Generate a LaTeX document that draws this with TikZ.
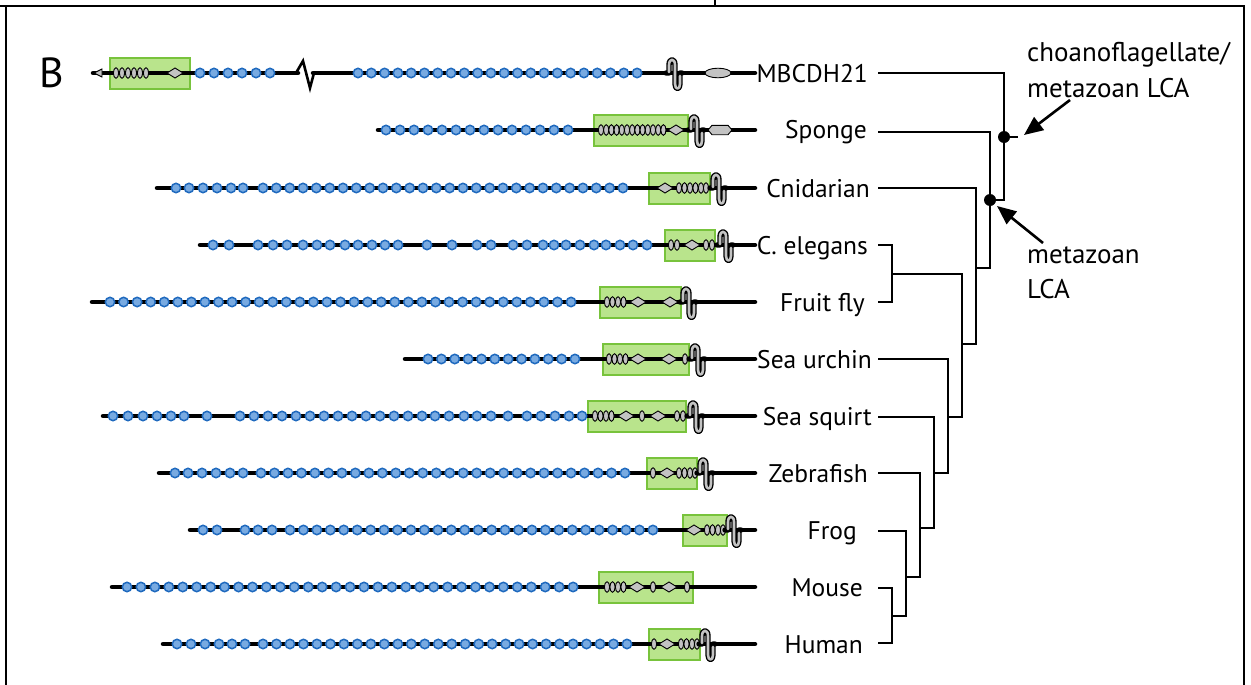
\documentclass[tikz,border=0pt]{standalone}
\usepackage{fontspec}
\setmainfont{PT Sans}
\usetikzlibrary{arrows.meta}
\definecolor{cadfill}{RGB}{120,170,225}
\definecolor{caddraw}{RGB}{30,105,190}
\definecolor{boxfill}{RGB}{185,228,140}
\definecolor{boxdraw}{RGB}{120,195,60}
\definecolor{domgray}{RGB}{195,195,195}
\tikzset{
 backbone/.style={line width=4.5pt, line cap=round},
 cad/.style={fill=cadfill, draw=caddraw, line width=1.5pt},
 dombox/.style={fill=boxfill, draw=boxdraw, line width=1.3pt},
 rep/.style={fill=domgray, draw=black, line width=0.9pt},
 tree/.style={line width=2.2pt},
 lab/.style={anchor=base east, inner sep=0pt, font=\fontsize{25.5}{30}\selectfont},
 ann/.style={anchor=base west, inner sep=0pt, font=\fontsize{27}{32}\selectfont},
 arr/.style={line width=2.6pt, -{Triangle[length=19pt,width=16pt]}},
 frame/.style={line width=2.5pt},
 tmpath/.style={line join=round, line cap=round},
 tm/.pic={
   \draw[tmpath, line width=5.4pt] (-6,0) -- (-3,0) -- (-3,-8) .. controls (-3,-15) and (3,-15) .. (3,-8) -- (3,11) .. controls (3,17) and (8,17) .. (8,11) -- (8,0) -- (10,0);
   \draw[tmpath, domgray, line width=2.6pt] (-3,-1) -- (-3,-8) .. controls (-3,-15) and (3,-15) .. (3,-8) -- (3,11) .. controls (3,17) and (8,17) .. (8,11) -- (8,3);
 }
}
\newcommand\cadrun[4]{\foreach \ci in {0,...,#4}{\filldraw[cad] ({#2+\ci*#3},#1) circle (4.7pt);}}
\newcommand\cadat[2]{\foreach \cx in {#2}{\filldraw[cad] (\cx,#1) circle (4.7pt);}}
\newcommand\repsat[2]{\foreach \rx in {#2}{\filldraw[rep] (\rx,#1) ellipse [x radius=2.6pt, y radius=5.3pt];}}
\newcommand\diasat[2]{\foreach \dx in {#2}{\filldraw[rep] ({\dx-8},#1) -- (\dx,{#1-5}) -- ({\dx+8},#1) -- (\dx,{#1+5}) -- cycle;}}
\newcommand\domainbox[3]{\filldraw[dombox] (#2,{#1-15}) rectangle (#3,{#1+16});}
\begin{document}
\begin{tikzpicture}[x=1pt,y=-1pt]
\useasboundingbox (0,0) rectangle (1251,685);
% frame
\draw[frame] (0,6) -- (1244,6) -- (1244,685);
\draw[frame] (6,6) -- (6,685);
\draw[frame] (715,0) -- (715,6);
\node[anchor=base west, inner sep=0pt, font=\fontsize{42}{46}\selectfont] (panelB) at (39,88) {B};

% ---- row 1: MBCDH21
\domainbox{73}{110}{190}
\draw[backbone] (93,73) -- (298,73);
\draw[line width=2.6pt, line join=miter] (296,73) -- (303,61) -- (310,88) -- (314,73);
\draw[backbone] (313,73) -- (755,73);
\filldraw[rep] (94,73) -- (102,69) -- (102,77) -- cycle;
\repsat{73}{116,122,128,134,140,146}
\diasat{73}{175}
\cadat{73}{200,214,228,242,256,270}
\cadrun{73}{358}{13.29}{21}
\pic at (672,73) {tm};
\filldraw[rep] (718,73) ellipse [x radius=13pt, y radius=4.8pt];

% ---- row 2: Sponge
\domainbox{130}{594}{688}
\draw[backbone] (378,130) -- (755,130);
\cadrun{130}{386}{14}{13}
\repsat{130}{601,606.2,611.4,616.6,621.8,627,632.2,637.4,642.6,647.8,653,658.2,663.4}
\diasat{130}{676}
\pic at (694,130) {tm};
\filldraw[rep] (708,130) -- (712,125.3) -- (728,125.3) -- (732,130) -- (728,134.7) -- (712,134.7) -- cycle;

% ---- row 3: Cnidarian
\domainbox{188}{649}{710}
\draw[backbone] (157,188) -- (755,188);
\cadat{188}{176,189,203,217,231,243}
\cadrun{188}{263}{13.33}{27}
\diasat{188}{665}
\repsat{188}{679,684.5,690,695.5,701,706}
\pic at (716,188) {tm};

% ---- row 4: C. elegans
\domainbox{245}{665}{715}
\draw[backbone] (200,245) -- (755,245);
\cadat{245}{213,229,258,273,287,303,317,330,345,358,372,385,398,427,452,477,491,513,527,543,554,566,580,594,606,620,633,647}
\repsat{245}{671,677,706,712}
\diasat{245}{692}
\pic at (723,245) {tm};

% ---- row 5: Fruit fly
\domainbox{302}{600}{681}
\draw[backbone] (92,302) -- (755,302);
\cadrun{302}{110}{13.56}{34}
\repsat{302}{607,612.5,618,623.5}
\diasat{302}{638,670}
\pic at (686,302) {tm};

% ---- row 6: Sea urchin
\domainbox{359}{603}{689}
\draw[backbone] (405,359) -- (755,359);
\cadrun{359}{428}{13.36}{11}
\repsat{359}{609,614.5,620,625.5,685}
\diasat{359}{638,669}
\pic at (695,359) {tm};

% ---- row 7: Sea squirt
\domainbox{416}{588}{686}
\draw[backbone] (103,416) -- (755,416);
\cadat{416}{113,128,143,157,171,184,207,240,254,268,282,296,310,324,338,352,366,380,394,408,422,435,449,464,477,491,508,527,541,555,569,582}
\repsat{416}{595,600.5,606,611.5,642,677,683}
\diasat{416}{626,658}
\pic at (693,416) {tm};

% ---- row 8: Zebrafish
\domainbox{473}{647}{697}
\draw[backbone] (159,473) -- (755,473);
\cadat{473}{175,188,202,216,230,243}
\cadrun{473}{261}{13.48}{27}
\repsat{473}{653,679,684.5,690,695}
\diasat{473}{667}
\pic at (703,473) {tm};

% ---- row 9: Frog
\domainbox{530}{683}{727}
\draw[backbone] (190,530) -- (755,530);
\cadat{530}{203,217,245,258,272}
\cadrun{530}{290}{13.44}{27}
\diasat{530}{694}
\repsat{530}{707,712.5,718,723}
\pic at (731,530) {tm};

% ---- row 10: Mouse
\domainbox{587}{599}{693}
\draw[backbone] (112,587) -- (755,587);
\cadrun{587}{127}{13.94}{32}
\repsat{587}{607,612.5,618,623.5,653,687}
\diasat{587}{637,669}

% ---- row 11: Human
\domainbox{644}{649}{700}
\draw[backbone] (163,644) -- (755,644);
\cadat{644}{177,191,205,219,232,245}
\cadrun{644}{263}{13.48}{27}
\repsat{644}{654,681,686.5,692,697}
\diasat{644}{667}
\pic at (705,644) {tm};

% ---- labels
\node[lab] (lMB) at (868,82) {MBCDH21};
\node[lab] (lSp) at (867,139) {Sponge};
\node[lab] (lCn) at (870,197) {Cnidarian};
\node[lab] (lCe) at (868,254) {C. elegans};
\node[lab] (lFf) at (865,311) {Fruit fly};
\node[lab] (lSu) at (872,368) {Sea urchin};
\node[lab] (lSs) at (872,425) {Sea squirt};
\node[lab] (lZf) at (868,482) {Zebrafish};
\node[lab] (lFr) at (857,539) {Frog};
\node[lab] (lMo) at (863,596) {Mouse};
\node[lab] (lHu) at (863,653) {Human};

% ---- tree leaves
\coordinate (tMB) at (878,73);
\coordinate (tSp) at (878,132);
\coordinate (tCn) at (878,188);
\coordinate (tCe) at (878,245);
\coordinate (tFf) at (878,302);
\coordinate (tSu) at (878,359);
\coordinate (tSs) at (878,417);
\coordinate (tZf) at (878,473);
\coordinate (tFr) at (878,531);
\coordinate (tMo) at (878,588);
\coordinate (tHu) at (878,643);
% internal nodes
\coordinate (nChoano) at (1004,137);
\coordinate (nRoot) at (1018,137);
\coordinate (nMeta) at (990,200);
\coordinate (nEume) at (976,268);
\coordinate (nBila) at (962,344);
\coordinate (nProto) at (892,274);
\coordinate (nDeut) at (948,417);
\coordinate (nOlf) at (934,473);
\coordinate (nVert) at (920,528);
\coordinate (nTetra) at (906,577);
\coordinate (nMamm) at (892,616);

\draw[tree] (tMB) -| (nChoano);
\draw[tree] (nMeta) -| (nChoano);
\draw[tree] (nChoano) -- (nRoot);
\draw[tree] (tSp) -| (nMeta);
\draw[tree] (nEume) -| (nMeta);
\draw[tree] (tCn) -| (nEume);
\draw[tree] (nBila) -| (nEume);
\draw[tree] (nProto) -| (nBila);
\draw[tree] (nDeut) -| (nBila);
\draw[tree] (tCe) -| (nProto);
\draw[tree] (tFf) -| (nProto);
\draw[tree] (tSu) -| (nDeut);
\draw[tree] (nOlf) -| (nDeut);
\draw[tree] (tSs) -| (nOlf);
\draw[tree] (nVert) -| (nOlf);
\draw[tree] (tZf) -| (nVert);
\draw[tree] (nTetra) -| (nVert);
\draw[tree] (tFr) -| (nTetra);
\draw[tree] (nMamm) -| (nTetra);
\draw[tree] (tMo) -| (nMamm);
\draw[tree] (tHu) -| (nMamm);
\fill (nChoano) circle (6pt);
\fill (nMeta) circle (6pt);

% ---- annotations
\node[ann] (aChoano) at (1027,62) {choanoflagellate/};
\node[ann] (aChoano2) at (1027,97) {metazoan LCA};
\node[ann] (aMeta) at (1027,263) {metazoan};
\node[ann] (aMeta2) at (1027,298) {LCA};
\coordinate (arrC1) at (1070,100);
\coordinate (arrC2) at (1024,135);
\coordinate (arrM1) at (1043,243);
\coordinate (arrM2) at (997,206);
\draw[arr] (arrC1) -- (arrC2);
\draw[arr] (arrM1) -- (arrM2);
\end{tikzpicture}
\end{document}
